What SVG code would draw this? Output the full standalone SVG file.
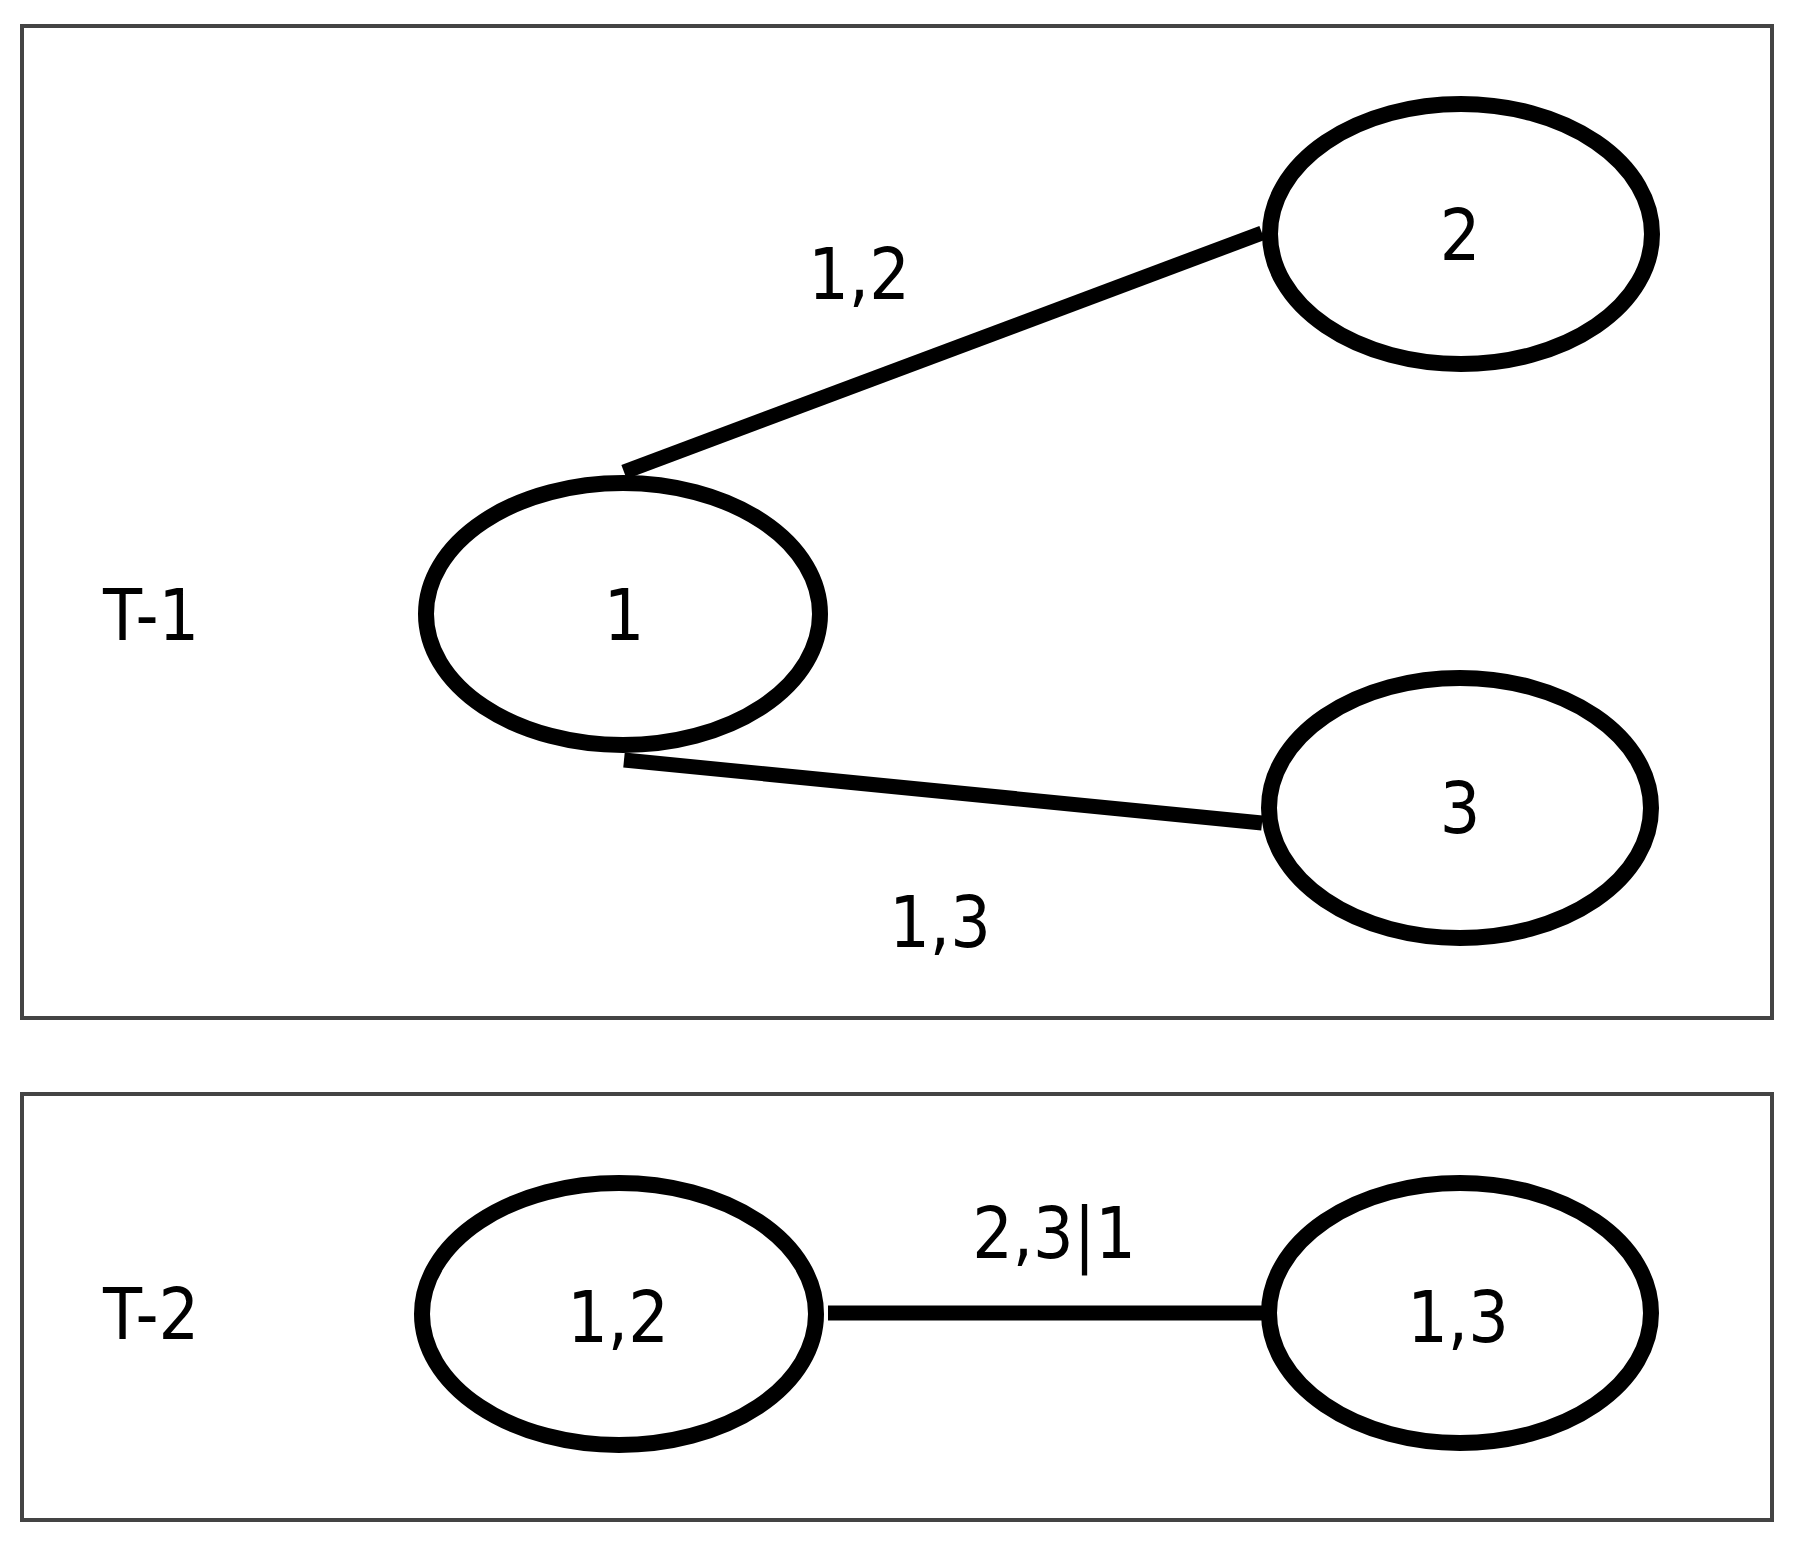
<svg xmlns="http://www.w3.org/2000/svg" width="1797" height="1548" viewBox="0 0 1797 1548">
<style>
.frame{fill:none;stroke:#444;stroke-width:4}
.node{fill:none;stroke:#000;stroke-width:16}
.edge{stroke:#000;stroke-width:15;stroke-linecap:butt;fill:none}
text{font-family:"DejaVu Sans Condensed","DejaVu Sans",sans-serif;font-stretch:condensed;font-size:71px;fill:#000}
.c{text-anchor:middle}
</style>
<rect width="1797" height="1548" fill="#fff"/>
<g id="frames">
<rect class="frame" x="22" y="26" width="1750" height="992"/>
<rect class="frame" x="22" y="1094" width="1750" height="426"/>
</g>
<g id="panel-labels">
<text x="103" y="640">T-1</text>
<text x="103" y="1339">T-2</text>
</g>
<g id="connectors">
<line class="edge" x1="624" y1="472" x2="1262" y2="233"/>
<line class="edge" x1="624" y1="760" x2="1262" y2="823"/>
<line class="edge" x1="828" y1="1313" x2="1262" y2="1313"/>
<text class="c" x="859" y="299">1,2</text>
<text class="c" x="940" y="947">1,3</text>
<text class="c" x="1054" y="1258">2,3|1</text>
</g>
<g id="node-1">
<ellipse class="node" cx="623" cy="614" rx="197" ry="131"/>
<text class="c" x="624" y="640">1</text>
</g>
<g id="node-2">
<ellipse class="node" cx="1461" cy="234" rx="191" ry="130"/>
<text class="c" x="1460" y="260">2</text>
</g>
<g id="node-3">
<ellipse class="node" cx="1460" cy="808" rx="191" ry="130"/>
<text class="c" x="1460" y="833">3</text>
</g>
<g id="node-12">
<ellipse class="node" cx="619" cy="1314" rx="197" ry="131"/>
<text class="c" x="618" y="1342">1,2</text>
</g>
<g id="node-13">
<ellipse class="node" cx="1460" cy="1313" rx="191" ry="130"/>
<text class="c" x="1458" y="1342">1,3</text>
</g>
</svg>
